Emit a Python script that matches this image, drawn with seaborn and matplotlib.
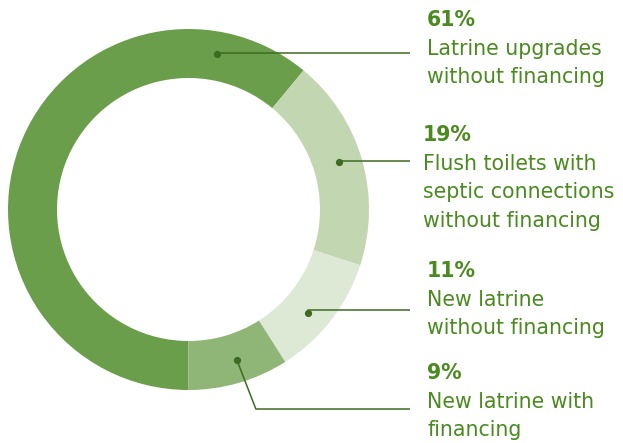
import numpy as np
import matplotlib
matplotlib.use("Agg")
import matplotlib.pyplot as plt
import seaborn as sns

# ---- data ----
shares = [61, 19, 11, 9]
pct_labels = ["61%", "19%", "11%", "9%"]
desc_labels = [
    ["Latrine upgrades", "without financing"],
    ["Flush toilets with", "septic connections", "without financing"],
    ["New latrine", "without financing"],
    ["New latrine with", "financing"],
]
slice_colors = ["#6a9e4a", "#c1d6b1", "#dde8d5", "#8fb577"]

# ---- layout ----
W, H = 623, 443
text_color = "#4a8a1f"
leader_color = "#3e6b22"
cx, cy = 188.5, H - 209.5
r_out, ring_w = 180.5, 49
dot_frac = [0.867, 0.48, 0.58, 0.45]
dot_r = 158
leader_y = [53, 161, 310, 409]          # pixel rows (top origin)
elbow_dx = [0, 0, 0, 19]
leader_end_x = 410
text_x = [427, 423, 427, 427]
pct_baseline = [26, 141, 277, 379]
line_gap = 28.7

sns.set_theme(style="white")
plt.rcParams["font.family"] = ["DejaVu Sans"]

fig = plt.figure(figsize=(W / 100, H / 100), dpi=100)
ax = fig.add_axes([0, 0, 1, 1])

wedges, _ = ax.pie(shares, colors=slice_colors, startangle=-90, counterclock=False,
                   radius=r_out, center=(cx, cy),
                   wedgeprops=dict(width=ring_w, linewidth=0))

for i, w in enumerate(wedges):
    ang = np.deg2rad(w.theta2 - dot_frac[i] * (w.theta2 - w.theta1))
    dx, dy = cx + dot_r * np.cos(ang), cy + dot_r * np.sin(ang)
    ly = H - leader_y[i]
    ax.plot([dx, dx + elbow_dx[i], leader_end_x], [dy, ly, ly],
            color=leader_color, lw=1.1, solid_capstyle="butt", zorder=3)
    ax.plot([dx], [dy], "o", color=leader_color, ms=4.2, zorder=4)

    ax.text(text_x[i], H - pct_baseline[i], pct_labels[i], color=text_color,
            fontsize=14.8, fontweight="bold", va="baseline", ha="left")
    for j, line in enumerate(desc_labels[i]):
        ax.text(text_x[i], H - pct_baseline[i] - line_gap * (j + 1), line,
                color=text_color, fontsize=14.8, va="baseline", ha="left")

ax.set_xlim(0, W)
ax.set_ylim(0, H)
ax.set_aspect("equal")
ax.axis("off")
fig.savefig("out.png", dpi=100)
